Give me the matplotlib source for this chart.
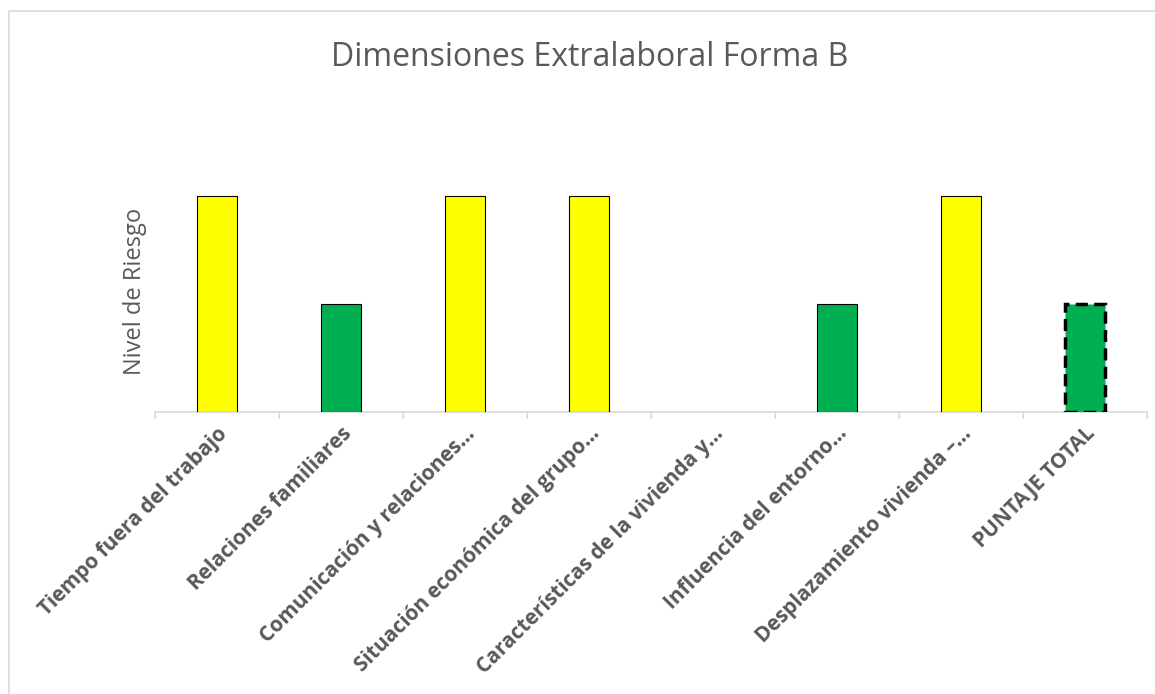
import matplotlib
matplotlib.use('Agg')
import matplotlib.pyplot as plt
from matplotlib.patches import Rectangle

# datos
categorias = ['Tiempo fuera del trabajo', 'Relaciones familiares',
              'Comunicación y relaciones…', 'Situación económica del grupo…',
              'Características de la vivienda y…', 'Influencia del entorno…',
              'Desplazamiento vivienda –…', 'PUNTAJE TOTAL']
nivel = [4, 2, 4, 4, 0, 2, 4, 2]
colores = ['#FFFF00', '#00B050', '#FFFF00', '#FFFF00', '#FFFF00', '#00B050', '#FFFF00', '#00B050']

plt.rcParams['font.family'] = ['Open Sans', 'DejaVu Sans']
gris = '#595959'

fig = plt.figure(figsize=(11.55, 6.94), dpi=100)
W, H = 1155, 694
ax = fig.add_axes([155 / W, 1 - 412 / H, (1147 - 155) / W, (412 - 142) / H])

x = list(range(len(categorias)))
barras = ax.bar(x, nivel, width=0.315, color=colores, edgecolor='black', linewidth=0.8, zorder=3)
for b, v in zip(barras, nivel):
    if v == 0:
        b.set_linewidth(0)
barras[-1].set_linestyle((0, (3.5, 1.8)))
barras[-1].set_linewidth(2.5)

ax.set_xlim(-0.5, len(categorias) - 0.5)
ax.set_ylim(0, 5)
ax.set_yticks([])
for s in ['top', 'right', 'left']:
    ax.spines[s].set_visible(False)
ax.spines['bottom'].set_color('#d9d9d9')
ax.spines['bottom'].set_linewidth(1.2)

# marcas entre categorias
ax.set_xticks([i - 0.5 for i in range(len(categorias) + 1)], minor=True)
ax.tick_params(axis='x', which='minor', length=5, color='#d9d9d9', width=1.2)
ax.set_xticks(x)
ax.tick_params(axis='x', which='major', length=0, pad=8)
ax.set_xticklabels(categorias, rotation=45, ha='right', rotation_mode='anchor',
                   fontsize=15, fontweight='bold', color=gris)

ax.set_ylabel('Nivel de Riesgo', fontsize=17, color=gris)
ax.yaxis.set_label_coords(-0.008, 0.445)
fig.text(590 / W, 1 - 57 / H, 'Dimensiones Extralaboral Forma B', ha='center', va='center',
         fontsize=23, color=gris)

# borde del grafico
fig.patches.append(Rectangle((9 / W, -0.1), 1.2, (1 - 11 / H) + 0.1, transform=fig.transFigure,
                             fill=False, edgecolor='#d9d9d9', linewidth=1.2))

fig.savefig('out.png', dpi=100)
